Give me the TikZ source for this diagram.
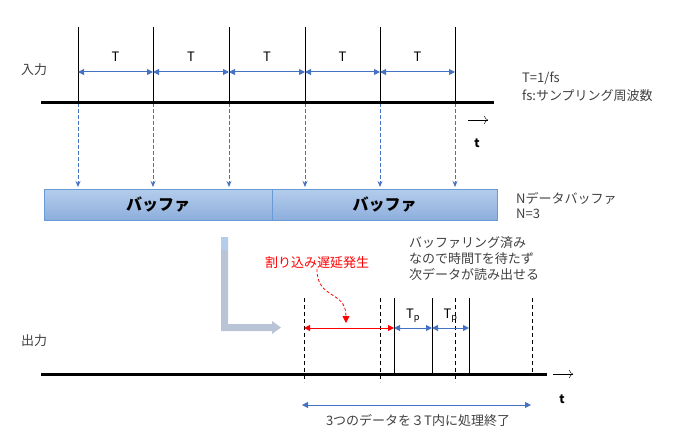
\documentclass[tikz,border=0pt]{standalone}
\usepackage{fontspec}
\setmainfont{Noto Sans CJK JP}
\usetikzlibrary{arrows.meta,positioning}
\definecolor{obl}{HTML}{4472C4}
\definecolor{bufbd}{HTML}{6A9AD6}
\definecolor{buftop}{HTML}{B4CDEC}
\definecolor{bufbot}{HTML}{8DAEDC}
\definecolor{turnfill}{HTML}{B9C5D6}
\definecolor{txt}{HTML}{404040}

\begin{document}
\begin{tikzpicture}[x=1pt,y=-1pt,
		lbl/.style={font=\fontsize{13}{15}\selectfont,text=txt,inner sep=0pt},
		axis/.style={line width=3pt},
		tick/.style={line width=0.8pt},
		dtick/.style={line width=0.8pt,dash pattern=on 4pt off 3pt},
		feed/.style={obl,line width=0.8pt,dash pattern=on 4pt off 2pt,-{Stealth[length=6pt,width=5pt]}},
		period/.style={obl,line width=1pt,{Triangle[length=6pt,width=6pt]}-{Triangle[length=6pt,width=6pt]}},
		delay/.style={red,line width=1pt,{Triangle[length=6pt,width=6pt]}-{Triangle[length=6pt,width=6pt]}},
		buffer/.style={draw=bufbd,top color=buftop,bottom color=bufbot,
			minimum height=31pt,inner sep=0pt,font=\fontsize{16}{18}\selectfont\bfseries}]
	\useasboundingbox (0,0) rectangle (681,436);

	% input side
	\node[lbl] (inlbl) at (34,70) {入力};
	\coordinate (inL) at (41,103);
	\coordinate (inR) at (494,103);
	\foreach \n/\x in {1/78,2/153,3/229,4/305,5/380,6/455} {
		\coordinate (top\n) at (\x,27);
		\coordinate (mid\n) at (\x,72);
		\coordinate (bot\n) at (\x,103);
		\coordinate (fd\n) at (\x,187);
		\draw[tick] (top\n) -- (bot\n);
		\draw[feed] (bot\n) -- (fd\n);
	}
	\foreach \a/\b in {1/2,2/3,3/4,4/5,5/6}
		\draw[period] (mid\a) -- node[lbl,text=black,above=10pt] {T} (mid\b);
	\draw[axis] (inL) -- (inR);
	\coordinate (tA) at (468,120);
	\coordinate (tB) at (488,120);
	\draw[-{To[length=4pt]}] (tA) -- (tB);
	\node[font=\bfseries\fontsize{12}{14}\selectfont] (tin) at (477,143) {t};
	\node[lbl,anchor=west] (def1) at (522,78) {T=1/fs};
	\node[lbl,anchor=west] (def2) at (522,96) {fs:サンプリング周波数};

	% buffer
	\node[buffer,minimum width=228pt] (bufA) at (158,204.5) {バッファ};
	\node[buffer,minimum width=225pt] (bufB) at (384.5,204.5) {バッファ};
	\node[lbl,anchor=west] (nbuf) at (516,198) {Nデータバッファ};
	\node[lbl,anchor=west] (nval) at (516,214) {N=3};

	% turn arrow
	\fill[turnfill] (221,237) -- (228,237) -- (228,324) -- (272,324) -- (272,321)
		-- (281,327.5) -- (272,334) -- (272,331) -- (221,331) -- cycle;
	\fill[buftop] (221,237) rectangle (228,250);

	% output side
	\node[lbl] (outlbl) at (34,341) {出力};
	\coordinate (outL) at (41,374);
	\coordinate (outR) at (547,374);
	\foreach \n/\x/\y in {1/304/382,2/380/382,3/455/382,4/532/374} {
		\coordinate (dt\n) at (\x,298);
		\coordinate (db\n) at (\x,\y);
		\draw[dtick] (dt\n) -- (db\n);
	}
	\foreach \n/\x in {1/394,2/432,3/469} {
		\coordinate (st\n) at (\x,298);
		\coordinate (sb\n) at (\x,374);
		\coordinate (sm\n) at (\x,328);
		\draw[tick] (st\n) -- (sb\n);
	}
	\draw[axis] (outL) -- (outR);
	\coordinate (dm1) at (304,328);
	\draw[delay] (dm1) -- (sm1);
	\draw[period] (sm1) -- node[lbl,text=black,above=5pt] {T\textsubscript{p}} (sm2);
	\draw[period] (sm2) -- node[lbl,text=black,above=5pt] {T\textsubscript{p}} (sm3);
	\node[lbl,text=red] (late) at (317,263) {割り込み遅延発生};
	\coordinate (lateTip) at (346,323);
	\draw[red,line width=0.8pt,dash pattern=on 3pt off 2pt,-{Triangle[length=7pt,width=7pt]}]
		(late.south) .. controls (317,300) and (346,290) .. (lateTip);
	\node[lbl,anchor=north west,align=left,font=\fontsize{13}{16}\selectfont] (note) at (409,236)
		{バッファリング済み\\なので時間Tを待たず\\次データが読み出せる};
	\coordinate (tC) at (553,374);
	\coordinate (tD) at (573,374);
	\draw[-{To[length=4pt]}] (tC) -- (tD);
	\node[font=\bfseries\fontsize{12}{14}\selectfont] (tout) at (562,399) {t};
	\coordinate (spL) at (302,405);
	\coordinate (spR) at (531,405);
	\draw[period] (spL) -- (spR);
	\node[lbl] (done) at (418,421) {3つのデータを３T内に処理終了};
\end{tikzpicture}
\end{document}
